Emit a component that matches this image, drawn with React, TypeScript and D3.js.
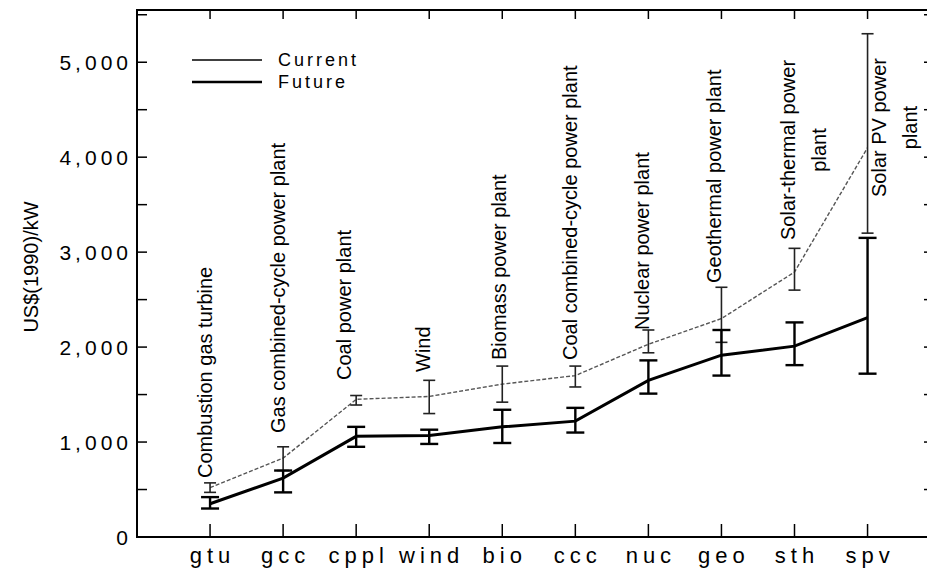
import { useEffect, useRef } from 'react';
import * as d3 from 'd3';

// categories along the x axis
const categories = ['gtu', 'gcc', 'cppl', 'wind', 'bio', 'ccc', 'nuc', 'geo', 'sth', 'spv'];

// vertical labels above each technology (one entry per line)
const techLabels: string[][] = [
    ['Combustion gas turbine'],
    ['Gas combined-cycle power plant'],
    ['Coal power plant'],
    ['Wind'],
    ['Biomass power plant'],
    ['Coal combined-cycle power plant'],
    ['Nuclear power plant'],
    ['Geothermal power plant'],
    ['Solar-thermal power', 'plant'],
    ['Solar PV power', 'plant'],
];

// US$(1990)/kW
const currentCost = [520, 830, 1450, 1480, 1610, 1700, 2030, 2300, 2790, 4100];
const currentLow = [470, 700, 1390, 1300, 1420, 1580, 1940, 2050, 2600, 3200];
const currentHigh = [570, 950, 1490, 1650, 1800, 1800, 2180, 2630, 3040, 5300];

const futureCost = [350, 620, 1060, 1070, 1160, 1220, 1650, 1915, 2010, 2310];
const futureLow = [300, 470, 950, 980, 990, 1100, 1510, 1700, 1810, 1720];
const futureHigh = [420, 700, 1160, 1130, 1340, 1360, 1860, 2180, 2260, 3150];

const yTicks = [0, 1000, 2000, 3000, 4000, 5000];
const yMinorTicks = [500, 1500, 2500, 3500, 4500, 5500];

// layout of the rotated labels (pixels): where the text starts, baseline shift
const labelBottom = [478, 433, 380, 372, 360, 360, 330, 283, 240, 197];
const labelShift = [2, 2, -5, 1, 4, 2, 1, 0, 0, 18];

export default function App() {
    const ref = useRef<SVGSVGElement>(null);

    useEffect(() => {
        if (!ref.current) return;
        const svg = d3.select(ref.current);
        svg.selectAll('*').remove();

        const width = 927;
        const height = 571;
        const left = 137;
        const right = 926;
        const top = 10;
        const bottom = 537;
        const font = 'Liberation Sans, Arial, sans-serif';

        svg.attr('width', width).attr('height', height);

        const x = d3.scaleLinear().domain([0, 10.8]).range([left, right]);
        const y = d3.scaleLinear().domain([0, 5550]).range([bottom, top]);
        const xi = (i: number) => x(i + 1);

        // frame (right side sits on the picture edge)
        svg.append('rect')
            .attr('x', left).attr('y', top)
            .attr('width', right + 3 - left).attr('height', bottom - top)
            .attr('fill', 'none').attr('stroke', '#000').attr('stroke-width', 2);

        // left ticks (inward)
        const allY = [...yTicks, ...yMinorTicks];
        svg.selectAll('.ltick').data(allY).enter().append('line')
            .attr('x1', left).attr('x2', left + 10)
            .attr('y1', (d) => y(d)).attr('y2', (d) => y(d))
            .attr('stroke', '#000').attr('stroke-width', 1.5);

        // right ticks
        svg.selectAll('.rtick').data(allY).enter().append('line')
            .attr('x1', right + 3).attr('x2', right - 2)
            .attr('y1', (d) => y(d)).attr('y2', (d) => y(d))
            .attr('stroke', '#000').attr('stroke-width', 1.5);

        // bottom / top ticks
        svg.selectAll('.btick').data(categories).enter().append('line')
            .attr('x1', (_, i) => xi(i)).attr('x2', (_, i) => xi(i))
            .attr('y1', bottom).attr('y2', bottom - 13)
            .attr('stroke', '#000').attr('stroke-width', 1.5);
        svg.selectAll('.ttick').data(categories).enter().append('line')
            .attr('x1', (_, i) => xi(i)).attr('x2', (_, i) => xi(i))
            .attr('y1', top).attr('y2', top + 9)
            .attr('stroke', '#000').attr('stroke-width', 1.5);

        // y tick labels
        svg.selectAll('.ylab').data(yTicks).enter().append('text')
            .attr('x', 132).attr('y', (d) => y(d))
            .attr('dy', '0.36em')
            .attr('text-anchor', 'end')
            .attr('font-family', font)
            .attr('font-size', 21)
            .attr('letter-spacing', 4)
            .attr('fill', '#000')
            .text((d) => d3.format(',')(d));

        // x category labels
        svg.selectAll('.xlab').data(categories).enter().append('text')
            .attr('x', (_, i) => xi(i) + 2.5).attr('y', 563)
            .attr('text-anchor', 'middle')
            .attr('font-family', font)
            .attr('font-size', 22)
            .attr('letter-spacing', 5)
            .attr('fill', '#000')
            .text((d) => d);

        // y axis title
        svg.append('text')
            .attr('transform', 'translate(38, 267) rotate(-90)')
            .attr('text-anchor', 'middle')
            .attr('font-family', font)
            .attr('font-size', 20)
            .attr('fill', '#000')
            .text('US$(1990)/kW');

        const line = d3.line<number>()
            .x((_, i) => xi(i))
            .y((d) => y(d));

        // current: thin dotted line
        svg.append('path')
            .attr('d', line(currentCost) as string)
            .attr('fill', 'none')
            .attr('stroke', '#555')
            .attr('stroke-width', 1.4)
            .attr('stroke-dasharray', '4 2');

        // future: thick black line
        svg.append('path')
            .attr('d', line(futureCost) as string)
            .attr('fill', 'none')
            .attr('stroke', '#000')
            .attr('stroke-width', 3);

        const errorBars = (lo: number[], hi: number[], cap: number, color: string, w: number) => {
            const g = svg.append('g').attr('stroke', color).attr('stroke-width', w);
            lo.forEach((l, i) => {
                const cx = xi(i);
                g.append('line').attr('x1', cx).attr('x2', cx).attr('y1', y(l)).attr('y2', y(hi[i]));
                g.append('line').attr('x1', cx - cap / 2).attr('x2', cx + cap / 2).attr('y1', y(l)).attr('y2', y(l));
                g.append('line').attr('x1', cx - cap / 2).attr('x2', cx + cap / 2).attr('y1', y(hi[i])).attr('y2', y(hi[i]));
            });
        };
        errorBars(currentLow, currentHigh, 12, '#222', 1.6);
        errorBars(futureLow, futureHigh, 18, '#000', 2.4);

        // rotated technology labels
        techLabels.forEach((lines, i) => {
            const bx = xi(i) + labelShift[i];
            const by = labelBottom[i];
            const first = svg.append('text')
                .attr('transform', `translate(${bx}, ${by}) rotate(-90)`)
                .attr('font-family', font)
                .attr('font-size', 20)
                .attr('fill', '#000')
                .text(lines[0]);
            if (lines.length > 1) {
                const len = (first.node() as SVGTextElement).getComputedTextLength();
                svg.append('text')
                    .attr('transform', `translate(${bx + 31}, ${by - len / 2}) rotate(-90)`)
                    .attr('text-anchor', 'middle')
                    .attr('font-family', font)
                    .attr('font-size', 20)
                    .attr('fill', '#000')
                    .text(lines[1]);
            }
        });

        // legend
        const legend = [
            { name: 'Current', w: 1.6 },
            { name: 'Future', w: 2.4 },
        ];
        legend.forEach((d, i) => {
            const ly = 60 + i * 22;
            svg.append('line')
                .attr('x1', 192).attr('x2', 262)
                .attr('y1', ly).attr('y2', ly)
                .attr('stroke', '#000').attr('stroke-width', d.w);
            svg.append('text')
                .attr('x', 278).attr('y', ly)
                .attr('dy', '0.35em')
                .attr('font-family', font)
                .attr('font-size', 18)
                .attr('letter-spacing', 3)
                .attr('fill', '#000')
                .text(d.name);
        });
    }, []);

    return (
        <svg
            ref={ref}
            style={{ position: 'absolute', left: 0, top: 0, background: '#fff' }}
        />
    );
}
